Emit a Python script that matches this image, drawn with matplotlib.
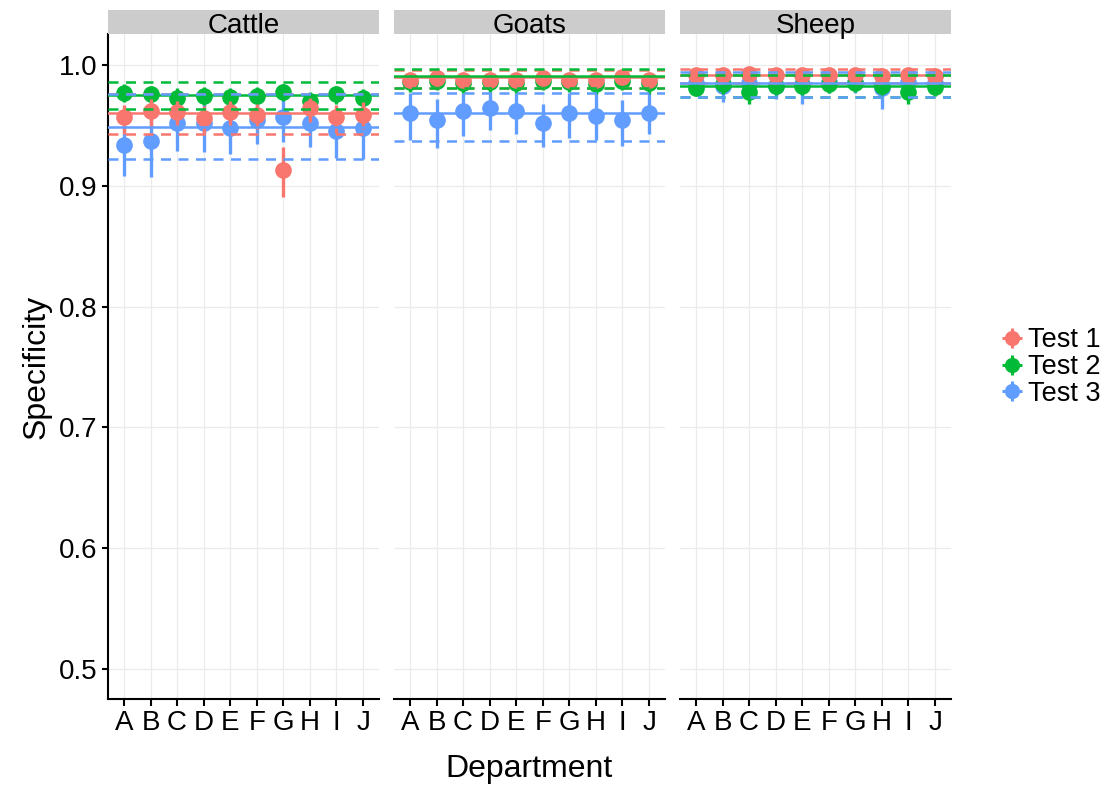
import matplotlib
matplotlib.use("Agg")
import matplotlib.pyplot as plt
from matplotlib.lines import Line2D
from matplotlib.legend_handler import HandlerTuple
import numpy as np

plt.rcParams['font.family'] = ['Liberation Sans', 'DejaVu Sans']

departments = ["A", "B", "C", "D", "E", "F", "G", "H", "I", "J"]
species = ["Cattle", "Goats", "Sheep"]
tests = ["Test 1", "Test 2", "Test 3"]
colors = {"Test 1": "#F8766D", "Test 2": "#00BA38", "Test 3": "#619CFF"}

# point estimates, lower and upper interval limits per species / test
cattle_t1 = [0.9566, 0.9622, 0.9613, 0.9558, 0.9613, 0.9586, 0.913, 0.9646, 0.957, 0.959]
cattle_t1_lo = [0.943, 0.948, 0.950, 0.944, 0.950, 0.947, 0.891, 0.953, 0.944, 0.947]
cattle_t1_hi = [0.967, 0.972, 0.970, 0.966, 0.970, 0.968, 0.932, 0.973, 0.967, 0.969]
cattle_t2 = [0.977, 0.9757, 0.973, 0.9746, 0.9738, 0.9746, 0.978, 0.970, 0.9757, 0.9724]
cattle_t2_lo = [0.969, 0.968, 0.965, 0.967, 0.966, 0.967, 0.970, 0.962, 0.968, 0.964]
cattle_t2_hi = [0.984, 0.983, 0.981, 0.982, 0.981, 0.982, 0.984, 0.978, 0.983, 0.980]
cattle_t3 = [0.9337, 0.937, 0.952, 0.9517, 0.948, 0.9544, 0.9566, 0.952, 0.9456, 0.948]
cattle_t3_lo = [0.908, 0.907, 0.929, 0.928, 0.926, 0.935, 0.936, 0.932, 0.923, 0.922]
cattle_t3_hi = [0.953, 0.958, 0.968, 0.968, 0.964, 0.969, 0.971, 0.967, 0.963, 0.966]

goats_t1 = [0.988, 0.989, 0.9876, 0.988, 0.9876, 0.989, 0.988, 0.9876, 0.9898, 0.988]
goats_t1_lo = [0.983, 0.984, 0.982, 0.983, 0.982, 0.984, 0.983, 0.982, 0.985, 0.983]
goats_t1_hi = [0.992, 0.993, 0.992, 0.992, 0.992, 0.993, 0.992, 0.992, 0.993, 0.992]
goats_t2 = [0.986, 0.987, 0.985, 0.986, 0.985, 0.987, 0.986, 0.984, 0.987, 0.985]
goats_t2_lo = [0.978, 0.979, 0.977, 0.978, 0.977, 0.979, 0.978, 0.976, 0.979, 0.976]
goats_t2_hi = [0.992, 0.993, 0.991, 0.992, 0.991, 0.993, 0.992, 0.991, 0.993, 0.991]
goats_t3 = [0.960, 0.9544, 0.9622, 0.9646, 0.962, 0.9517, 0.9605, 0.9577, 0.9544, 0.9605]
goats_t3_lo = [0.938, 0.931, 0.941, 0.946, 0.943, 0.932, 0.940, 0.938, 0.933, 0.943]
goats_t3_hi = [0.977, 0.972, 0.977, 0.978, 0.977, 0.968, 0.977, 0.977, 0.971, 0.977]

sheep_t1 = [0.9917, 0.9915, 0.993, 0.9917, 0.9915, 0.9917, 0.9915, 0.991, 0.9917, 0.991]
sheep_t1_lo = [0.988, 0.988, 0.989, 0.988, 0.988, 0.988, 0.988, 0.987, 0.988, 0.987]
sheep_t1_hi = [0.995, 0.995, 0.996, 0.995, 0.995, 0.995, 0.995, 0.995, 0.995, 0.995]
sheep_t2 = [0.981, 0.984, 0.978, 0.983, 0.983, 0.984, 0.985, 0.983, 0.978, 0.982]
sheep_t2_lo = [0.974, 0.976, 0.968, 0.975, 0.975, 0.977, 0.978, 0.975, 0.968, 0.974]
sheep_t2_hi = [0.987, 0.989, 0.985, 0.988, 0.988, 0.989, 0.990, 0.988, 0.985, 0.987]
sheep_t3 = [0.985, 0.983, 0.985, 0.983, 0.984, 0.986, 0.986, 0.981, 0.986, 0.985]
sheep_t3_lo = [0.975, 0.9696, 0.975, 0.972, 0.968, 0.977, 0.977, 0.964, 0.977, 0.975]
sheep_t3_hi = [0.991, 0.990, 0.991, 0.990, 0.991, 0.992, 0.992, 0.989, 0.992, 0.991]

# pooled estimate (solid) with lower / upper limits (dashed)
cattle_pool = [0.9605, 0.9755, 0.9489]
cattle_pool_lo = [0.9428, 0.9635, 0.922]
cattle_pool_hi = [0.9762, 0.986, 0.9757]
goats_pool = [0.9905, 0.9909, 0.9605]
goats_pool_lo = [0.9812, 0.9812, 0.937]
goats_pool_hi = [0.9962, 0.9964, 0.977]
sheep_pool = [0.9917, 0.983, 0.9848]
sheep_pool_lo = [0.985, 0.9732, 0.9738]
sheep_pool_hi = [0.9964, 0.992, 0.994]

points = {
    "Cattle": [(cattle_t1, cattle_t1_lo, cattle_t1_hi), (cattle_t2, cattle_t2_lo, cattle_t2_hi), (cattle_t3, cattle_t3_lo, cattle_t3_hi)],
    "Goats": [(goats_t1, goats_t1_lo, goats_t1_hi), (goats_t2, goats_t2_lo, goats_t2_hi), (goats_t3, goats_t3_lo, goats_t3_hi)],
    "Sheep": [(sheep_t1, sheep_t1_lo, sheep_t1_hi), (sheep_t2, sheep_t2_lo, sheep_t2_hi), (sheep_t3, sheep_t3_lo, sheep_t3_hi)],
}
pools = {
    "Cattle": (cattle_pool, cattle_pool_lo, cattle_pool_hi),
    "Goats": (goats_pool, goats_pool_lo, goats_pool_hi),
    "Sheep": (sheep_pool, sheep_pool_lo, sheep_pool_hi),
}
yticks = [0.5, 0.6, 0.7, 0.8, 0.9, 1.0]

W, H = 1111, 789
fig = plt.figure(figsize=(W / 100, H / 100), dpi=100)
fig.patch.set_facecolor("white")

panel_px = [(108, 379), (394, 665), (680, 951)]
top_px, bot_px = 34, 699
strip_top = 10

x = np.arange(1, len(departments) + 1)
for i, sp in enumerate(species):
    l, r = panel_px[i]
    ax = fig.add_axes([l / W, 1 - bot_px / H, (r - l) / W, (bot_px - top_px) / H])
    ax.set_xlim(0.4, 10.6)
    ax.set_ylim(0.4752, 1.0257)
    ax.set_facecolor("white")
    ax.set_axisbelow(True)
    ax.grid(True, color="#EBEBEB", linewidth=0.9)
    for s in ["top", "right"]:
        ax.spines[s].set_visible(False)
    ax.spines["bottom"].set_linewidth(1.5)
    ax.spines["left"].set_linewidth(1.5)
    if i > 0:
        ax.spines["left"].set_visible(False)
    ax.set_xticks(x)
    ax.set_xticklabels(departments, fontsize=20)
    ax.set_yticks(yticks)
    if i == 0:
        ax.set_yticklabels([f"{v:.1f}" for v in yticks], fontsize=20)
        ax.set_ylabel("Specificity", fontsize=23, labelpad=5)
        ax.tick_params(axis="y", length=4.5, width=1.5, pad=3)
    else:
        ax.tick_params(axis="y", length=0, labelleft=False)
    ax.tick_params(axis="x", length=5, width=1.5, pad=3)
    if i == 1:
        ax.set_xlabel("Department", fontsize=23, labelpad=13)

    # points and intervals (Test 3 first so Test 1 ends on top)
    for j in [2, 1, 0]:
        est, lo, hi = points[sp][j]
        c = colors[tests[j]]
        ax.vlines(x, lo, hi, color=c, linewidth=2.4, zorder=3)
        ax.plot(x, est, "o", color=c, markersize=12, markeredgewidth=0, zorder=3)
    # pooled lines on top
    pe, plo, phi = pools[sp]
    for j in [0, 1, 2]:
        c = colors[tests[j]]
        ax.axhline(pe[j], color=c, linewidth=1.8, zorder=4)
        ax.axhline(plo[j], color=c, linewidth=1.8, linestyle=(0, (4, 3)), zorder=4)
        ax.axhline(phi[j], color=c, linewidth=1.8, linestyle=(0, (4, 3)), zorder=4)

    # strip
    sax = fig.add_axes([l / W, 1 - top_px / H, (r - l) / W, (top_px - strip_top) / H])
    sax.set_facecolor("#CCCCCC")
    for s in sax.spines.values():
        s.set_visible(False)
    sax.set_xticks([])
    sax.set_yticks([])
    sax.text(0.5, 0.32, sp, ha="center", va="center", fontsize=20, transform=sax.transAxes)

handles = []
for t in tests:
    c = colors[t]
    handles.append((Line2D([], [], color=c, marker="+", markersize=15, markeredgewidth=2.2, linestyle=""),
                    Line2D([], [], color=c, marker="o", markersize=11, markeredgewidth=0, linestyle="")))
fig.legend(handles, tests, loc="center left", bbox_to_anchor=(998 / W, 1 - 367 / H),
           frameon=False, fontsize=19.5, handler_map={tuple: HandlerTuple(ndivide=1)},
           handlelength=1.0, handletextpad=0.1, labelspacing=0.02, borderpad=0, borderaxespad=0)

fig.savefig("out.png", dpi=100, facecolor="white")
